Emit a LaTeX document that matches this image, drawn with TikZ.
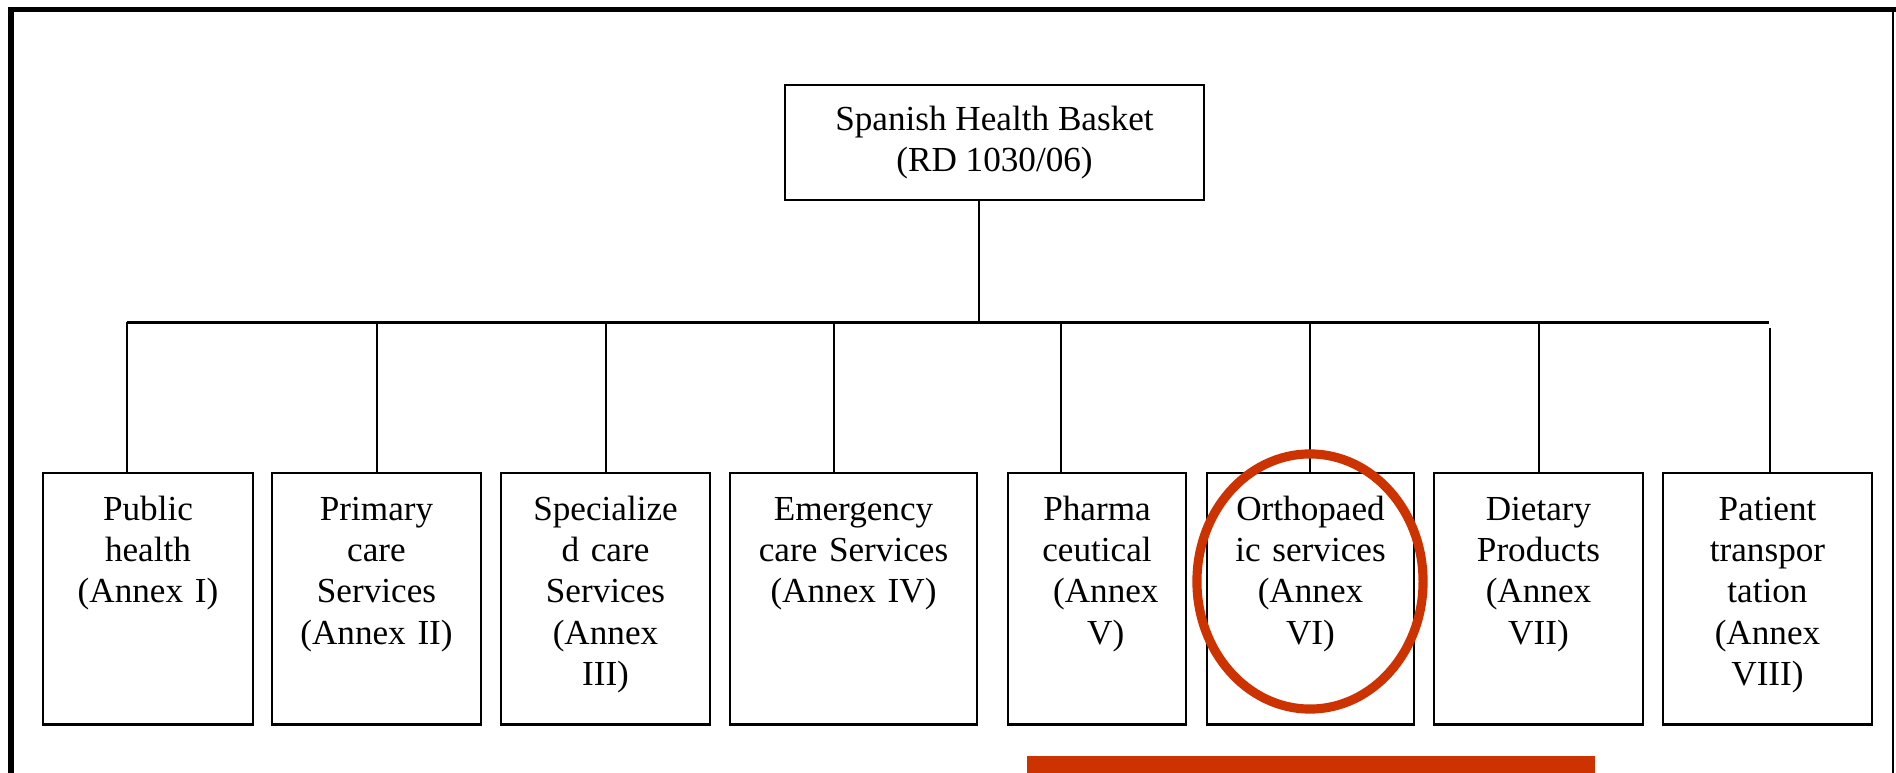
\documentclass[tikz,border=0pt]{standalone}
\usepackage{fontspec}
\setmainfont{Liberation Serif}
\usetikzlibrary{positioning,calc}
\definecolor{markred}{RGB}{204,51,0}

\begin{document}
\begin{tikzpicture}[x=0.01cm,y=-0.01cm,
  box/.style={draw,line width=0.7pt,font=\fontsize{10}{11.75}\selectfont},
  annex/.style={box,anchor=north,align=center,inner xsep=0pt,inner ysep=0pt,
    text height=0.47cm,text depth=2.04cm},
  link/.style={line width=0.7pt}]
  \useasboundingbox (0,0) rectangle (1896,773);

  % ====== Outer frame ======
  \draw[line width=1.7pt] (11,773) -- (11,9.5) -- (1896,9.5);
  \draw[line width=0.6pt] (1893,12) -- (1893,773);

  % ====== Root ======
  \node[box,align=center,minimum width=4.19cm,minimum height=1.15cm] (basket)
    at (994.5,142.5) {Spanish Health Basket\\(RD 1030/06)};

  % ====== Annex boxes ======
  \node[annex,text width=2.10cm] (pub)   at (148,472)    {Public\\health\\(Annex I)};
  \node[annex,text width=2.09cm] (prim)  at (376.5,472)  {Primary\\care\\Services\\(Annex II)};
  \node[annex,text width=2.09cm] (spec)  at (605.5,472)  {Specialize\\d care\\Services\\(Annex\\III)};
  \node[annex,text width=2.47cm] (emer)  at (853.5,472)  {Emergency\\care Services\\(Annex IV)};
  \node[annex,text width=1.78cm] (pharm) at (1097,472)   {Pharma\\ceutical\\\hspace*{0.5em}(Annex\\\hspace*{0.5em}V)};
  \node[annex,text width=2.07cm] (ortho) at (1310.5,472) {Orthopaed\\ic services\\(Annex\\VI)};
  \node[annex,text width=2.09cm] (diet)  at (1538.5,472) {Dietary\\Products\\(Annex\\VII)};
  \node[annex,text width=2.09cm] (pat)   at (1767.5,472) {Patient\\transpor\\tation\\(Annex\\VIII)};

  % ====== Tree lines ======
  \coordinate (trunk) at (979,322.5);
  \coordinate (busend) at (1769,322.5);
  \draw[link] (basket.south -| trunk) -- (trunk);
  \foreach \x/\n in {127/pub,377/prim,606/spec,834/emer,1061/pharm,1310/ortho,1539/diet}{
    \coordinate (t\n) at (\x,322.5);
    \draw[link] (t\n) -- (t\n |- \n.north);
  }
  \draw[link] (tpub) -- (busend);
  \coordinate (tpat) at (1770,328);  % last drop, a hair below the bus
  \draw[link] (tpat) -- (tpat |- pat.north);

  % ====== Highlight ======
  \draw[markred,line width=2.6pt] (1310,581.5) ellipse [x radius=1.13cm,y radius=1.275cm];
  \fill[markred] (1027,756) rectangle (1595,773);
\end{tikzpicture}
\end{document}
